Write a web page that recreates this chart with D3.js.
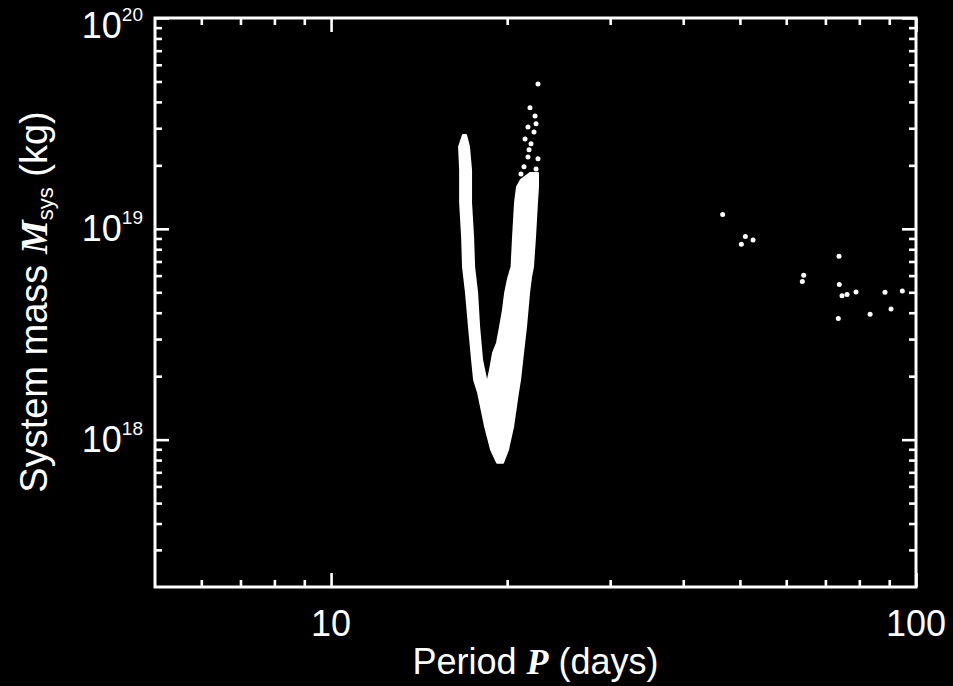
<!DOCTYPE html>
<html>
<head>
<meta charset="utf-8">
<script src="https://cdn.jsdelivr.net/npm/d3@7"></script>
<style>
  body { margin: 0; background: #000; }
  svg text { font-family: "Liberation Sans", Arial, Helvetica, sans-serif; fill: #fff; }
</style>
</head>
<body>
<svg width="953" height="686"></svg>
<script>
// Period (days) vs system mass (kg), log-log

// outline of the dense V-shaped cloud of solutions (period, mass), walked round clockwise
var vPeriod = [16.81, 16.55, 16.62, 16.62, 16.75, 16.81, 17.01, 17.21, 17.42, 17.56,
               17.84, 18.34, 18.77, 19.22, 19.68, 20.07, 20.47, 20.87, 21.04, 21.29,
               21.54, 21.80, 21.97, 22.14, 22.32, 22.49, 22.58, 22.58, 21.88, 21.12,
               20.79, 20.63, 20.47, 20.35, 20.07, 19.84, 19.68, 19.45, 19.22, 18.92,
               18.70, 18.48, 18.12, 17.91, 17.77, 17.56, 17.49, 17.35, 17.35, 17.21, 17.01];
var vMass = [2.79e19, 2.45e19, 1.90e19, 1.33e19, 9.17e18, 6.60e18, 4.97e18, 3.43e18, 2.39e18, 1.92e18,
             1.67e18, 1.15e18, 8.97e17, 7.78e17, 7.78e17, 8.97e17, 1.15e18, 1.67e18, 1.92e18, 2.58e18,
             3.43e18, 4.97e18, 5.90e18, 6.60e18, 9.17e18, 1.33e19, 1.58e19, 1.84e19, 1.84e19, 1.71e19,
             1.58e19, 1.33e19, 9.17e18, 6.60e18, 5.80e18, 4.97e18, 4.15e18, 3.43e18, 2.88e18, 2.58e18,
             2.15e18, 1.84e18, 2.39e18, 3.43e18, 4.97e18, 6.60e18, 9.17e18, 1.33e19, 1.90e19, 2.45e19, 2.79e19];

// scattered solutions above the right branch
var tailPeriod = [22.58, 21.88, 22.32, 22.41, 21.71, 22.23, 21.46, 21.97, 21.80, 21.71,
                  22.58, 21.37, 22.41, 21.12, 21.63];
var tailMass = [4.87e19, 3.75e19, 3.43e19, 3.15e19, 3.04e19, 2.88e19, 2.67e19, 2.53e19, 2.37e19, 2.19e19,
                2.15e19, 1.97e19, 1.92e19, 1.82e19, 1.71e19];

// isolated long-period solutions
var farPeriod = [46.72, 51.08, 50.28, 52.65, 73.86, 64.27, 63.92, 73.94, 74.73, 76.23,
                 78.97, 88.51, 94.76, 90.64, 83.46, 73.65];
var farMass = [1.169e19, 9.20e18, 8.46e18, 8.84e18, 7.42e18, 6.03e18, 5.63e18, 5.45e18, 4.81e18, 4.88e18,
               5.02e18, 5.00e18, 5.07e18, 4.16e18, 3.93e18, 3.75e18];

// axis labelling
var xMajor = [10, 100];
var xMajorLabels = ["10", "100"];
var yMajor = [1e18, 1e19, 1e20];
var yMajorExponents = ["18", "19", "20"];

var svg = d3.select('svg');
var plot = {l: 155, r: 916, t: 18, b: 587};

var x = d3.scaleLog().domain([5, 100]).range([plot.l, plot.r]);
var y = d3.scaleLog().domain([2e17, 1e20]).range([plot.b, plot.t]);

var xMinor = x.ticks().filter(function(v) { return xMajor.indexOf(v) < 0 && v > 5; });
var yMinor = y.ticks().filter(function(v) {
  return !yMajor.some(function(m) { return Math.abs(m - v) / m < 1e-6; }) && v > 2.01e17;
});

// inward ticks on all four sides
function tickGroup(axis, tx, ty) {
  var g = svg.append('g')
    .attr('transform', 'translate(' + tx + ',' + ty + ')')
    .call(axis);
  g.select('.domain').remove();
  g.selectAll('line').attr('stroke', '#fff').attr('stroke-width', 2.6);
  g.selectAll('text').remove();
  return g;
}

tickGroup(d3.axisBottom(x).tickValues(xMinor).tickSize(-7), 0, plot.b);
tickGroup(d3.axisBottom(x).tickValues(xMajor).tickSize(-14), 0, plot.b);
tickGroup(d3.axisTop(x).tickValues(xMinor).tickSize(-7), 0, plot.t);
tickGroup(d3.axisTop(x).tickValues(xMajor).tickSize(-14), 0, plot.t);
tickGroup(d3.axisLeft(y).tickValues(yMinor).tickSize(-7), plot.l, 0);
tickGroup(d3.axisLeft(y).tickValues(yMajor).tickSize(-14), plot.l, 0);
tickGroup(d3.axisRight(y).tickValues(yMinor).tickSize(-7), plot.r, 0);
tickGroup(d3.axisRight(y).tickValues(yMajor).tickSize(-14), plot.r, 0);

// frame
svg.append('rect')
  .attr('x', plot.l)
  .attr('y', plot.t)
  .attr('width', plot.r - plot.l)
  .attr('height', plot.b - plot.t)
  .attr('fill', 'none')
  .attr('stroke', '#fff')
  .attr('stroke-width', 3);

// x tick labels
svg.selectAll('.xlabel')
  .data(d3.zip(xMajor, xMajorLabels))
  .enter()
  .append('text')
  .attr('class', 'xlabel')
  .attr('x', d => x(d[0]))
  .attr('y', plot.b + 49)
  .attr('text-anchor', 'middle')
  .style('font-size', '36px')
  .text(d => d[1]);

// y tick labels as powers of ten; the top one is pushed down to stay on the page
var ylab = svg.selectAll('.ylabel')
  .data(d3.zip(yMajor, yMajorExponents))
  .enter()
  .append('text')
  .attr('class', 'ylabel')
  .attr('x', plot.l - 12)
  .attr('y', d => Math.max(y(d[0]) + 12, 38))
  .attr('text-anchor', 'end');
ylab.append('tspan').style('font-size', '36px').text('10');
ylab.append('tspan').style('font-size', '19px').attr('dy', -17).text(d => d[1]);

// axis titles
var xt = svg.append('text')
  .attr('x', (plot.l + plot.r) / 2)
  .attr('y', 674)
  .attr('text-anchor', 'middle')
  .style('font-size', '36px');
xt.append('tspan').text('Period ');
xt.append('tspan')
  .style('font-family', '"Liberation Serif", "Times New Roman", serif')
  .style('font-weight', 'bold')
  .style('font-style', 'italic')
  .text('P');
xt.append('tspan').text(' (days)');

var yt = svg.append('text')
  .attr('transform', 'translate(47,302) rotate(-90)')
  .attr('text-anchor', 'middle')
  .style('font-size', '38px');
yt.append('tspan').text('System mass ');
yt.append('tspan')
  .style('font-family', '"Liberation Serif", "Times New Roman", serif')
  .style('font-weight', 'bold')
  .style('font-style', 'italic')
  .text('M');
yt.append('tspan').style('font-size', '22px').attr('dy', 6).text('sys');
yt.append('tspan').attr('dy', -6).text(' (kg)');

// dense cloud of solutions
var outline = d3.line()
  .x(d => x(d[0]))
  .y(d => y(d[1]));

svg.append('path')
  .datum(d3.zip(vPeriod, vMass))
  .attr('d', d => outline(d) + 'Z')
  .attr('fill', '#fff')
  .attr('stroke', '#fff')
  .attr('stroke-width', 2)
  .attr('stroke-linejoin', 'round');

// individual points
svg.selectAll('.pt')
  .data(d3.zip(tailPeriod, tailMass).concat(d3.zip(farPeriod, farMass)))
  .enter()
  .append('circle')
  .attr('class', 'pt')
  .attr('cx', d => x(d[0]))
  .attr('cy', d => y(d[1]))
  .attr('r', 2.5)
  .attr('fill', '#fff');
</script>
</body>
</html>
